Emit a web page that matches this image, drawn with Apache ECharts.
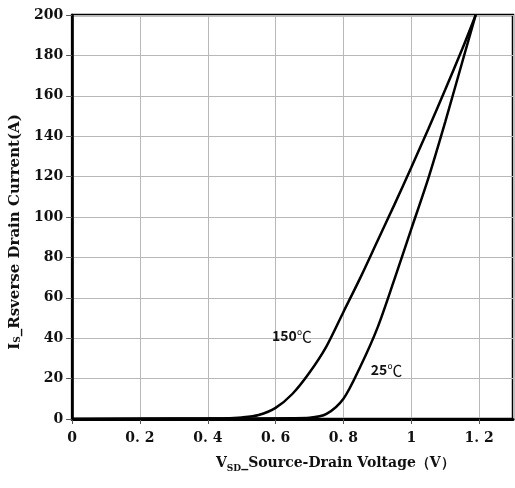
<!DOCTYPE html>
<html><head><meta charset="utf-8">
<script src="https://cdn.jsdelivr.net/npm/echarts@6/dist/echarts.min.js"></script>
<style>html,body{margin:0;padding:0;background:#fff}#c{width:515px;height:488px}</style>
</head><body><div id="c"></div>
<script>
const xTicks = [0, 0.2, 0.4, 0.6, 0.8, 1.0, 1.2];
const xTickLabels = ['0', '0. 2', '0. 4', '0. 6', '0. 8', '1', '1. 2'];
const yTicks = [0, 20, 40, 60, 80, 100, 120, 140, 160, 180, 200];
const v150 = [0, 0.3, 0.45, 0.5, 0.55, 0.6, 0.65, 0.7, 0.75, 0.8, 0.85, 0.9, 0.95, 1.0, 1.05, 1.1, 1.15, 1.19];
const i150 = [0, 0.2, 0.4, 0.8, 2, 5.5, 12.5, 23, 36, 53, 70, 88, 106, 124.5, 143.5, 163, 183, 200];
const v25 = [0, 0.4, 0.65, 0.7, 0.75, 0.8, 0.85, 0.9, 0.95, 1.0, 1.05, 1.1, 1.15, 1.19];
const i25 = [0, 0.2, 0.4, 0.6, 2.5, 10, 26, 45, 69, 94, 119, 147, 176.5, 200];
const label150 = {num: '150', unit: '℃', x: 0.648, y: 41.1};
const label25 = {num: '25', unit: '℃', x: 0.927, y: 24.3};

const zip = (a, b) => a.map((v, i) => [v, b[i]]);
const chart = echarts.init(document.getElementById('c'));
const serif = '"DejaVu Serif", "Liberation Serif", serif';
const cjk = '"Noto Sans CJK SC", "Noto Sans", sans-serif';
function mk(lbl) {
  return {
    symbol: 'circle', symbolSize: 1, silent: true,
    itemStyle: {color: 'rgba(0,0,0,0)'},
    label: {show: true, position: 'inside', formatter: '{n|' + lbl.num + '}{u|' + lbl.unit + '}',
      rich: {
        n: {fontFamily: cjk, fontWeight: 'bold', fontSize: 14, color: '#111'},
        u: {fontFamily: cjk, fontWeight: 'normal', fontSize: 15, color: '#111'}
      }},
    data: [{coord: [lbl.x, lbl.y]}]
  };
}
chart.setOption({
  animation: false,
  grid: {left: 69, right: 2, top: 15, bottom: 69, show: true, borderColor: '#000', borderWidth: 2.5, backgroundColor: 'transparent'},
  title: {
    text: '{m|V}{s|SD}{m|_Source-Drain Voltage（V）}',
    left: 211, top: 451,
    textStyle: {rich: {
      m: {fontFamily: serif, fontWeight: 'bold', fontSize: 14, color: '#111', verticalAlign: 'bottom'},
      s: {fontFamily: serif, fontWeight: 'bold', fontSize: 9, color: '#111', verticalAlign: 'bottom', padding: [0, 0, -3, 0]}
    }}
  },
  xAxis: {
    type: 'value', min: 0, max: 1.3, interval: 0.2,
    axisLine: {show: true, onZero: false, lineStyle: {color: '#000', width: 3}},
    axisTick: {show: true, length: 5, lineStyle: {color: '#555'}},
    axisLabel: {
      margin: 12, fontFamily: serif, fontWeight: 'bold', fontSize: 14, color: '#111',
      showMaxLabel: false,
      formatter: v => { const i = xTicks.findIndex(t => Math.abs(t - v) < 1e-6); return i >= 0 ? xTickLabels[i] : ''; }
    },
    splitLine: {show: true, lineStyle: {color: '#b8b8b8', width: 1}},
  },
  yAxis: {
    type: 'value', min: 0, max: 200, interval: 20,
    name: '{m|I}{s|S}{m|_Rsverse Drain Current(A)}',
    nameLocation: 'middle', nameGap: 46, nameRotate: 90,
    nameTextStyle: {rich: {
      m: {fontFamily: serif, fontWeight: 'bold', fontSize: 15, color: '#111'},
      s: {fontFamily: serif, fontWeight: 'bold', fontSize: 9, color: '#111', padding: [0, 0, -5, 0]}
    }, padding: [0, 30, 0, 0]},
    axisLine: {show: true, lineStyle: {color: '#000', width: 2.5}},
    axisTick: {show: true, length: 6, lineStyle: {color: '#555'}},
    axisLabel: {margin: 9, fontFamily: serif, fontWeight: 'bold', fontSize: 14, color: '#111'},
    splitLine: {show: true, lineStyle: {color: '#b8b8b8', width: 1}}
  },
  series: [
    {type: 'line', data: zip(v150, i150), showSymbol: false, smooth: 0.3,
     lineStyle: {color: '#000', width: 2.5}, markPoint: mk(label150)},
    {type: 'line', data: zip(v25, i25), showSymbol: false, smooth: 0.3,
     lineStyle: {color: '#000', width: 2.5}, markPoint: mk(label25)}
  ]
});
</script></body></html>
